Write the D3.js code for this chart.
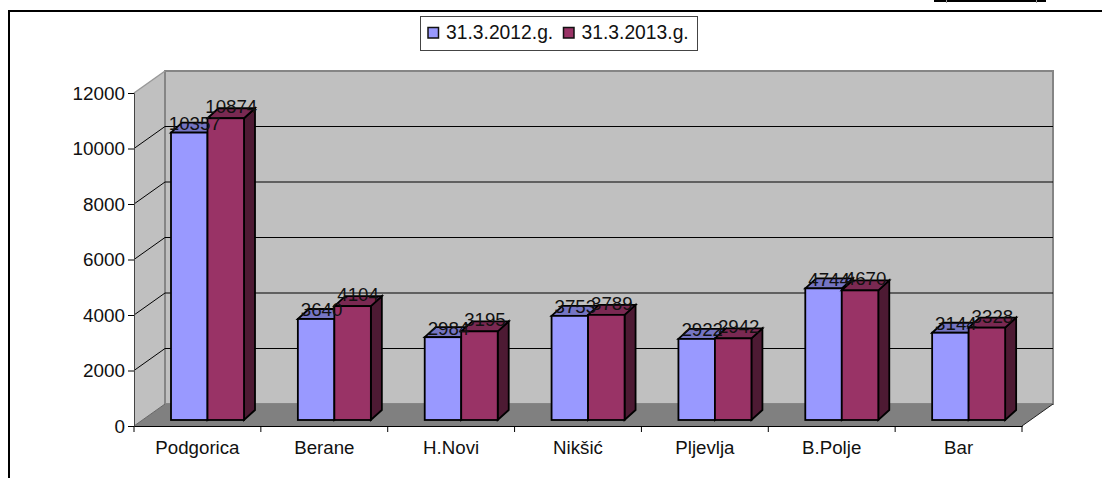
<!DOCTYPE html>
<html><head><meta charset="utf-8">
<script src="https://cdn.jsdelivr.net/npm/d3@7"></script>
<style>html,body{margin:0;padding:0;background:#fff;overflow:hidden}svg{display:block}text{font-family:"Liberation Sans",Arial,sans-serif;fill:#111}</style>
</head><body><svg id="c" width="1102" height="478"></svg>
<script>
const categories = ["Podgorica","Berane","H.Novi","Nikšić","Pljevlja","B.Polje","Bar"];
const seriesNames = ["31.3.2012.g.","31.3.2013.g."];
const values2012 = [10357,3640,2984,3753,2922,4744,3144];
const values2013 = [10874,4104,3195,3789,2942,4670,3328];
const yTicks = [0,2000,4000,6000,8000,10000,12000];
const faceColors = ["#9999ff","#993366"];
const topColors = ["#7575c4","#7a2952"];
const sideColors = ["#4d4d80","#4d1a33"];

const svg = d3.select("#c");
const x = d3.scaleBand().domain(categories).range([134,1022]);
const y = d3.scaleLinear().domain([0,12000]).range([426,93]);
const sub = d3.scaleBand().domain([0,1]).range([37,110]);
const depth = {dx:31, dy:-22};
const barPlane = {dx:0, dy:-6};
const barDepth = {dx:11, dy:-10};
const labelLift = [2.5,5];
const line = d3.line();
const [L,R] = x.range(), y0 = y(0), yT = y(12000);

// page frame
svg.append("path").attr("d",`M9,478V11H1102`).attr("fill","none").attr("stroke","#000").attr("stroke-width",2);
svg.append("rect").attr("x",934).attr("y",0).attr("width",112).attr("height",2).attr("fill","#000");
[946,1036].forEach(px=>svg.append("rect").attr("x",px).attr("y",0).attr("width",1).attr("height",3).attr("fill","#999"));

// walls and floor
svg.append("path").attr("d",line([[L,y0],[L,yT],[L+depth.dx,yT+depth.dy],[L+depth.dx,y0+depth.dy]])+"Z").attr("fill","#c0c0c0");
svg.append("rect").attr("x",L+depth.dx).attr("y",yT+depth.dy).attr("width",R-L).attr("height",y0-yT)
  .attr("fill","#c0c0c0").attr("stroke","#858585").attr("stroke-width",2);
svg.append("path").attr("d",line([[L,y0],[L+depth.dx,y0+depth.dy],[R+depth.dx,y0+depth.dy],[R,y0]])+"Z").attr("fill","#808080");
svg.append("path").attr("d",line([[L,yT],[L+depth.dx,yT+depth.dy]])).attr("stroke","#999").attr("stroke-width",1.5).attr("fill","none");

// gridlines
yTicks.filter(v=>v>0&&v<12000).forEach(v=>{
  svg.append("path").attr("d",line([[L,y(v)],[L+depth.dx,y(v)+depth.dy],[R+depth.dx,y(v)+depth.dy]]))
    .attr("fill","none").attr("stroke","#000").attr("stroke-width",1);
});
svg.append("path").attr("d",line([[L,y0],[L+depth.dx,y0+depth.dy]])).attr("stroke","#666").attr("fill","none");
svg.append("path").attr("d",line([[R,y0],[R+depth.dx,y0+depth.dy]])).attr("stroke","#222").attr("fill","none");

// axes
const yAxis = d3.axisLeft(y).tickValues(yTicks).tickFormat(d3.format("d")).tickSize(6).tickPadding(3);
const gy = svg.append("g").attr("transform",`translate(${L},0)`).call(yAxis);
gy.selectAll("text").attr("dy","6").style("font-size","18.9px");
gy.select(".domain").attr("stroke","#444");
const xAxis = d3.axisBottom(x).tickSize(0).tickPadding(0);
const gx = svg.append("g").attr("transform",`translate(0,${y0})`).call(xAxis);
gx.selectAll("text").style("font-size","18.7px").attr("y",28).attr("dy",0);
gx.select(".domain").attr("stroke","#000");
svg.append("g").selectAll("line").data(categories.map(c=>x(c)).concat([R])).join("line")
  .attr("x1",d=>d).attr("x2",d=>d).attr("y1",y0).attr("y2",y0+6).attr("stroke","#000");

// bars
const data = categories.map((c,i)=>[values2012[i],values2013[i]]);
categories.forEach((c,ci)=>{
  data[ci].forEach((v,si)=>{
    const g = svg.append("g").attr("stroke","#000").attr("stroke-width",1.8).attr("stroke-linejoin","miter");
    const xl = x(c)+sub(si)+barPlane.dx, xr = xl+sub.bandwidth();
    const yb = y(0)+barPlane.dy, yt = y(v)+barPlane.dy;
    g.append("path").attr("fill",sideColors[si]).attr("d",line([[xr,yb],[xr,yt],[xr+barDepth.dx,yt+barDepth.dy],[xr+barDepth.dx,yb+barDepth.dy]])+"Z");
    g.append("path").attr("fill",topColors[si]).attr("d",line([[xl,yt],[xl+barDepth.dx,yt+barDepth.dy],[xr+barDepth.dx,yt+barDepth.dy],[xr,yt]])+"Z");
    g.append("rect").attr("x",xl).attr("y",yt).attr("width",xr-xl).attr("height",yb-yt).attr("fill",faceColors[si]);
  });
});
// data labels
categories.forEach((c,ci)=>{
  data[ci].forEach((v,si)=>{
    const xl = x(c)+sub(si)+barPlane.dx;
    svg.append("text").attr("x",xl+sub.bandwidth()/2+5.5).attr("y",y(v)+barPlane.dy-labelLift[si])
      .attr("text-anchor","middle").attr("font-size",18.7).text(v);
  });
});

// legend
svg.append("rect").attr("x",420.5).attr("y",16.5).attr("width",277).attr("height",34).attr("fill","#fff").attr("stroke","#444");
const legendSwatchX = [428,563.5], legendTextX = [446,581.5];
seriesNames.forEach((n,i)=>{
  svg.append("rect").attr("x",legendSwatchX[i]).attr("y",27.5).attr("width",10.5).attr("height",10.5)
    .attr("fill",faceColors[i]).attr("stroke","#111").attr("stroke-width",1.5);
  svg.append("text").attr("x",legendTextX[i]).attr("y",39).attr("font-size",19.3).text(n);
});
</script></body></html>
